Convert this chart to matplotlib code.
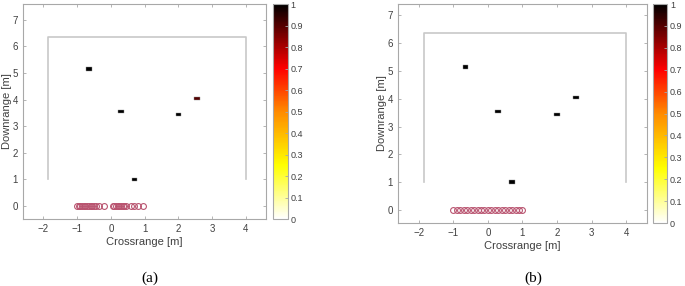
import matplotlib
matplotlib.use('Agg')
import matplotlib.pyplot as plt
import numpy as np
from matplotlib.colors import LinearSegmentedColormap

plt.rcParams['font.family'] = ['Liberation Sans', 'DejaVu Sans']

# target positions and intensities (same for both panels, one differs in (a))
tgt_x = [-0.65, 0.3, 2.0, 2.55, 0.7]
tgt_y = [5.15, 3.55, 3.43, 4.05, 1.0]
tgt_val_a = [1.0, 1.0, 1.0, 0.9, 1.0]
tgt_val_b = [1.0, 1.0, 1.0, 1.0, 1.0]

# array element positions
elem_a = [-1.0, -0.95, -0.9, -0.85, -0.8, -0.75, -0.7, -0.65, -0.6, -0.55, -0.5, -0.45,
          -0.35, -0.2,
          0.05, 0.1, 0.15, 0.2, 0.25, 0.3, 0.35, 0.4, 0.45, 0.6, 0.68, 0.8, 0.95]
elem_b = [-1.0, -0.9, -0.8, -0.7, -0.6, -0.5, -0.4, -0.3, -0.2, -0.1, 0.0,
          0.1, 0.2, 0.3, 0.4, 0.5, 0.6, 0.7, 0.8, 0.9, 1.0]

# room outline (open at the bottom)
room_x = [-1.85, -1.85, 4.0, 4.0]
room_y = [1.0, 6.35, 6.35, 1.0]

xticks = [-2, -1, 0, 1, 2, 3, 4]
yticks = [0, 1, 2, 3, 4, 5, 6, 7]
cbar_ticks = [0, 0.1, 0.2, 0.3, 0.4, 0.5, 0.6, 0.7, 0.8, 0.9, 1]

cmap = LinearSegmentedColormap.from_list(
    'whot', [(0, '#ffffff'), (0.25, '#ffff00'), (0.5, '#ff8a00'),
             (0.7, '#ff0000'), (1.0, '#000000')])

rect_marker = [(-1, -0.6), (1, -0.6), (1, 0.6), (-1, 0.6), (-1, -0.6)]

spine_col = '#a8a8a8'
text_col = '#404040'


def draw_panel(fig, ax_rect, cb_rect, vals, elems, ylim, caption, cap_x):
    ax = fig.add_axes(ax_rect)
    ax.plot(room_x, room_y, color='#c8c8c8', lw=1.2)
    ax.plot(elems, np.zeros(len(elems)), 'o', mfc='none', mec='#b95470',
            ms=4.2, mew=0.8)
    sc = ax.scatter(tgt_x, tgt_y, c=vals, cmap=cmap, vmin=0, vmax=1,
                    marker=rect_marker, s=17, edgecolors='#909090',
                    linewidths=0.3, zorder=3)
    ax.set_xlim(-2.6, 4.6)
    ax.set_ylim(*ylim)
    ax.set_xticks(xticks)
    ax.set_yticks(yticks)
    ax.tick_params(direction='in', length=2.5, width=0.6, color=spine_col,
                   labelsize=7, labelcolor=text_col, top=True, right=True)
    for s in ax.spines.values():
        s.set_color(spine_col)
        s.set_linewidth(0.8)
    ax.set_xlabel('Crossrange [m]', fontsize=8, color=text_col, labelpad=2)
    ax.set_ylabel('Downrange [m]', fontsize=8, color=text_col, labelpad=0.5)

    cax = fig.add_axes(cb_rect)
    cb = fig.colorbar(sc, cax=cax, ticks=cbar_ticks)
    cb.ax.set_yticklabels(['0', '0.1', '0.2', '0.3', '0.4', '0.5', '0.6',
                           '0.7', '0.8', '0.9', '1'])
    cb.ax.tick_params(direction='in', length=2, width=0.6, color=spine_col,
                      labelsize=6.5, labelcolor=text_col, pad=2)
    cb.outline.set_edgecolor(spine_col)
    cb.outline.set_linewidth(0.8)

    fig.text(cap_x, 0.028, caption, ha='center', va='center', fontsize=11,
             family=['Liberation Serif', 'DejaVu Serif'])


fig = plt.figure(figsize=(6.85, 2.86), dpi=100)

draw_panel(fig, [0.0336, 0.234, 0.355, 0.752], [0.3985, 0.234, 0.0219, 0.752],
           tgt_val_a, elem_a, (-0.5, 7.6), '(a)', 0.219)
draw_panel(fig, [0.581, 0.220, 0.3635, 0.766], [0.9537, 0.220, 0.0205, 0.766],
           tgt_val_b, elem_b, (-0.47, 7.41), '(b)', 0.778)

fig.savefig('out.png', dpi=100)
